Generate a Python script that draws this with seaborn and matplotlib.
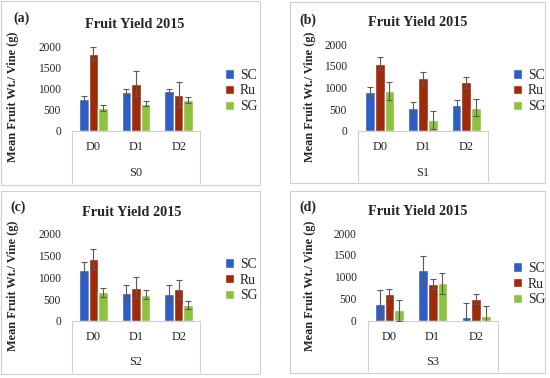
import pandas as pd
import matplotlib.pyplot as plt
import seaborn as sns
from matplotlib.lines import Line2D
from matplotlib.patches import Rectangle

# doses on the x axis, clones as hue, one panel per S level
doses = ['D0', 'D1', 'D2']
clones = ['SC', 'Ru', 'SG']
s_levels = ['S0', 'S1', 'S2', 'S3']
panel_tags = ['(a)', '(b)', '(c)', '(d)']

# mean fruit weight per vine (g), one row per S level, values for D0, D1, D2
sc_mean = [[760, 925, 945], [900, 535, 595], [1170, 630, 620], [380, 1145, 95]]
ru_mean = [[1830, 1125, 865], [1555, 1225, 1120], [1420, 760, 720], [620, 835, 500]]
sg_mean = [[550, 650, 730], [915, 250, 540], [660, 600, 360], [240, 850, 100]]

# error bar half-lengths
sc_err = [[65, 60, 55], [115, 125, 125], [195, 185, 195], [320, 320, 320]]
ru_err = [[155, 290, 295], [145, 140, 130], [235, 240, 230], [110, 110, 110]]
sg_err = [[70, 55, 65], [210, 200, 205], [105, 100, 95], [240, 240, 240]]

colors = {'SC': '#2F5DC6', 'Ru': '#9E2A0C', 'SG': '#8CC23F'}

rows = []
for i, s in enumerate(s_levels):
    for c, means, errs in zip(clones, [sc_mean, ru_mean, sg_mean], [sc_err, ru_err, sg_err]):
        for j, d in enumerate(doses):
            rows.append({'S': s, 'Dose': d, 'Clone': c, 'Yield': means[i][j], 'Err': errs[i][j]})
df = pd.DataFrame(rows)

sns.set_style('white')
plt.rcParams['font.family'] = ['Liberation Serif', 'DejaVu Serif']

W, H = 550, 378
fig = plt.figure(figsize=(5.5, 3.78), dpi=100)

def fx(px):
    return px / W

def fy(py):
    return 1 - py / H

# pixel layout of each panel: axis left/right, y of 0 and 2000, frame box, text spots
layout = [
    dict(ax=(72, 200, 131, 46.7), frame=(1, 1, 260, 185), ylab=(13, 97), tag=(22, 18), title=(135, 24), leg=(225, 91)),
    dict(ax=(358, 488, 131, 44.3), frame=(290, 2, 545, 183), ylab=(310, 97), tag=(308, 20), title=(418, 22), leg=(513, 91)),
    dict(ax=(72, 200, 320.7, 234), frame=(1, 191, 260, 374), ylab=(13, 286), tag=(18, 207), title=(132, 212), leg=(225, 280)),
    dict(ax=(367.7, 497.7, 320.7, 233), frame=(290, 191, 545, 373), ylab=(310, 286), tag=(308, 207), title=(418, 211), leg=(513, 284)),
]

grey = '#d0d0d0'

for i, s in enumerate(s_levels):
    L = layout[i]
    x0, x1, y0, y2000 = L['ax']
    ax = fig.add_axes([fx(x0), fy(y0), (x1 - x0) / W, (y0 - y2000) / H])
    sub = df[df['S'] == s]
    sns.barplot(data=sub, x='Dose', y='Yield', hue='Clone', order=doses, hue_order=clones,
                palette=colors, width=0.67, gap=0, saturation=1, errorbar=None, ax=ax)

    # error bars on top of each bar
    for cont, c in zip(ax.containers, clones):
        xs = [b.get_x() + b.get_width() / 2 for b in cont]
        ys = [b.get_height() for b in cont]
        errs = sub[sub['Clone'] == c].set_index('Dose').loc[doses, 'Err'].values
        ax.errorbar(xs, ys, yerr=errs, fmt='none', ecolor='#5a5a5a', elinewidth=0.8,
                    capsize=2, capthick=0.8, zorder=3)

    ax.set_ylim(0, 2000)
    ax.set_xlim(-0.5, 2.5)
    ax.set_yticks([0, 500, 1000, 1500, 2000])
    ax.tick_params(axis='y', length=0, labelsize=8.3, pad=8)
    ax.set_xticks([])
    ax.set_xlabel('')
    ax.set_ylabel('')
    for side in ['left', 'right', 'top']:
        ax.spines[side].set_visible(False)
    ax.spines['bottom'].set_color(grey)
    ax.spines['bottom'].set_linewidth(0.8)

    # category table under the axis
    for j, d in enumerate(doses):
        ax.annotate(d, xy=(j, 0), xycoords=('data', 'axes fraction'), xytext=(0, -11.5),
                    textcoords='offset points', ha='center', va='center', fontsize=8.8)
    ax.annotate(s, xy=(0.5, 0), xycoords='axes fraction', xytext=(0, -30),
                textcoords='offset points', ha='center', va='center', fontsize=8.8)
    fb = L['frame'][3] - 2
    for xx in (x0, x1):
        fig.add_artist(Line2D([fx(xx), fx(xx)], [fy(y0), fy(fb)], color=grey, lw=0.8))

    # legend
    handles, labels = ax.get_legend_handles_labels()
    ax.legend(handles, labels, loc='center left', bbox_to_anchor=(fx(L['leg'][0]), fy(L['leg'][1])),
              bbox_transform=fig.transFigure, frameon=False, fontsize=9.8, handlelength=0.65,
              handleheight=0.65, handletextpad=0.45, labelspacing=0.2, borderaxespad=0, borderpad=0)

    # frame, title, tag, y label
    fl, ft, fr, fbm = L['frame']
    fig.add_artist(Rectangle((fx(fl), fy(fbm)), (fr - fl) / W, (fbm - ft) / H,
                             transform=fig.transFigure, fill=False, edgecolor=grey, lw=0.8))
    fig.text(fx(L['title'][0]), fy(L['title'][1]), 'Fruit Yield 2015', ha='center', va='center',
             fontsize=10.3, fontweight='bold')
    fig.text(fx(L['tag'][0]), fy(L['tag'][1]), panel_tags[i], ha='center', va='center',
             fontsize=10, fontweight='bold')
    fig.text(fx(L['ylab'][0]), fy(L['ylab'][1]), 'Mean Fruit Wt./ Vine (g)', ha='center', va='center',
             rotation=90, fontsize=8.8, fontweight='bold')

fig.savefig('out.png', dpi=100)
